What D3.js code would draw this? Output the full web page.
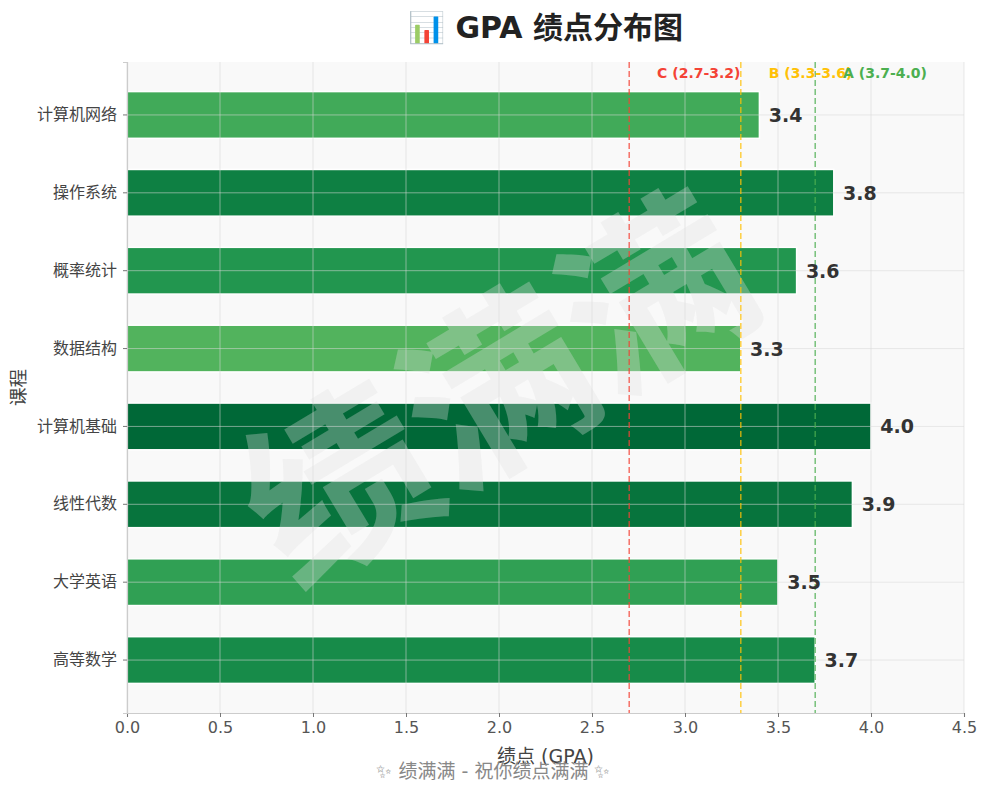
<!DOCTYPE html>
<html lang="zh">
<head>
  <meta charset="utf-8">
  <title>GPA 绩点分布图</title>
  <script src="https://d3js.org/d3.v7.min.js"></script>
  <style>
    body { margin: 0; background: #fff; }
    text { font-family: "DejaVu Sans", "Noto Sans CJK SC", sans-serif; }
  </style>
</head>
<body>
  <div id="chart"></div>

  <script>
    // Courses, bottom to top as drawn
    var courses = ["高等数学", "大学英语", "线性代数", "计算机基础", "数据结构", "概率统计", "操作系统", "计算机网络"];
    var gpa = [3.7, 3.5, 3.9, 4.0, 3.3, 3.6, 3.8, 3.4];
    var xTicks = [0, 0.5, 1, 1.5, 2, 2.5, 3, 3.5, 4, 4.5];

    // Grade thresholds
    var gradeLines = [2.7, 3.3, 3.7];
    var gradeLabels = ["C (2.7-3.2)", "B (3.3-3.6)", "A (3.7-4.0)"];
    var gradeColors = ["#f44336", "#ffc107", "#4caf50"];

    var W = 987, H = 791;
    var margin = {top: 62, right: 23, bottom: 78, left: 127},
        width = W - margin.left - margin.right,
        height = H - margin.top - margin.bottom;

    var svg = d3.select("#chart").append("svg")
      .attr("width", W)
      .attr("height", H);

    var g = svg.append("g")
      .attr("transform", "translate(" + margin.left + "," + margin.top + ")");

    var x = d3.scaleLinear().domain([0, 4.5]).range([0, width]);

    // reversed so the first course sits at the bottom
    var y = d3.scaleBand()
      .domain(courses.slice().reverse())
      .range([0, height])
      .paddingInner(0.4)
      .paddingOuter(0.38);

    var color = d3.scaleSequential(d3.interpolateRdYlGn).domain([0, 4]);

    // plot background
    g.append("rect")
      .attr("width", width)
      .attr("height", height)
      .attr("fill", "#f9f9f9");

    // bars
    g.selectAll(".bar")
      .data(courses)
      .enter().append("rect")
      .attr("class", "bar")
      .attr("x", x(0))
      .attr("y", function(d) { return y(d); })
      .attr("width", function(d, i) { return x(gpa[i]) - x(0); })
      .attr("height", y.bandwidth())
      .attr("fill", function(d, i) { return color(gpa[i]); })
      .attr("stroke", "#fff")
      .attr("stroke-width", 1.5);

    // watermark
    g.append("text")
      .attr("transform", "translate(" + (490 - margin.left) + "," + (378 - margin.top) + ") rotate(-31)")
      .attr("text-anchor", "middle")
      .attr("dominant-baseline", "central")
      .style("font-family", "'Noto Sans CJK SC', sans-serif")
      .style("font-weight", "bold")
      .style("font-size", "185px")
      .attr("fill", "#e0e0e0")
      .attr("fill-opacity", 0.32)
      .text("绩满满");

    // grid on top of bars
    g.selectAll(".vgrid")
      .data(xTicks)
      .enter().append("line")
      .attr("x1", function(d) { return x(d); })
      .attr("x2", function(d) { return x(d); })
      .attr("y1", 0)
      .attr("y2", height)
      .attr("stroke", "#d8d8d8")
      .attr("stroke-opacity", 0.55);

    g.selectAll(".hgrid")
      .data(courses)
      .enter().append("line")
      .attr("x1", 0)
      .attr("x2", width)
      .attr("y1", function(d) { return y(d) + y.bandwidth() / 2; })
      .attr("y2", function(d) { return y(d) + y.bandwidth() / 2; })
      .attr("stroke", "#d8d8d8")
      .attr("stroke-opacity", 0.55);

    // grade threshold lines
    g.selectAll(".grade")
      .data(gradeLines)
      .enter().append("line")
      .attr("x1", function(d) { return x(d); })
      .attr("x2", function(d) { return x(d); })
      .attr("y1", 0)
      .attr("y2", height)
      .attr("stroke", function(d, i) { return gradeColors[i]; })
      .attr("stroke-opacity", 0.75)
      .attr("stroke-width", 1.5)
      .attr("stroke-dasharray", "6,3");

    g.selectAll(".gradeLabel")
      .data(gradeLines)
      .enter().append("text")
      .attr("x", function(d) { return x(d + 0.15); })
      .attr("y", 11)
      .attr("dominant-baseline", "central")
      .attr("fill", function(d, i) { return gradeColors[i]; })
      .style("font-size", "14px")
      .style("font-weight", "bold")
      .text(function(d, i) { return gradeLabels[i]; });

    // value labels
    g.selectAll(".val")
      .data(courses)
      .enter().append("text")
      .attr("x", function(d, i) { return x(gpa[i] + 0.05); })
      .attr("y", function(d) { return y(d) + y.bandwidth() / 2; })
      .attr("dominant-baseline", "central")
      .attr("fill", "#333")
      .style("font-size", "19px")
      .style("font-weight", "bold")
      .text(function(d, i) { return gpa[i].toFixed(1); });

    // axes
    var xAxis = g.append("g")
      .attr("transform", "translate(0," + height + ")")
      .call(d3.axisBottom(x).tickValues(xTicks).tickFormat(d3.format(".1f")).tickSize(4).tickPadding(5));
    xAxis.select(".domain").attr("stroke", "#ccc").attr("stroke-width", 1.2);
    xAxis.selectAll(".tick line").attr("stroke", "#777");
    xAxis.selectAll(".tick text").attr("fill", "#555").style("font-size", "16px");

    var yAxis = g.append("g")
      .call(d3.axisLeft(y).tickSize(4).tickPadding(6));
    yAxis.select(".domain").attr("stroke", "#ccc").attr("stroke-width", 1.2);
    yAxis.selectAll(".tick line").attr("stroke", "#777");
    yAxis.selectAll(".tick text").attr("fill", "#444")
      .style("font-family", "'Noto Sans CJK SC', sans-serif")
      .style("font-size", "16px");

    // axis titles
    svg.append("text")
      .attr("x", margin.left + width / 2)
      .attr("y", 756)
      .attr("text-anchor", "middle")
      .attr("dominant-baseline", "central")
      .attr("fill", "#444")
      .style("font-size", "19px")
      .text("绩点 (GPA)");

    svg.append("text")
      .attr("transform", "translate(18," + (margin.top + height / 2) + ") rotate(-90)")
      .attr("text-anchor", "middle")
      .attr("dominant-baseline", "central")
      .attr("fill", "#444")
      .style("font-size", "18.5px")
      .text("课程");

    // title
    svg.append("text")
      .attr("x", margin.left + width / 2)
      .attr("y", 27)
      .attr("text-anchor", "middle")
      .attr("dominant-baseline", "central")
      .attr("fill", "#222")
      .style("font-size", "30px")
      .style("font-weight", "bold")
      .text("📊 GPA 绩点分布图");

    // footer (text-style sparkles)
    svg.append("text")
      .attr("x", W / 2)
      .attr("y", 771)
      .attr("text-anchor", "middle")
      .attr("dominant-baseline", "central")
      .attr("fill", "#888")
      .style("font-size", "19px")
      .text("\u2728\uFE0E 绩满满 - 祝你绩点满满 \u2728\uFE0E");
  </script>
</body>
</html>
